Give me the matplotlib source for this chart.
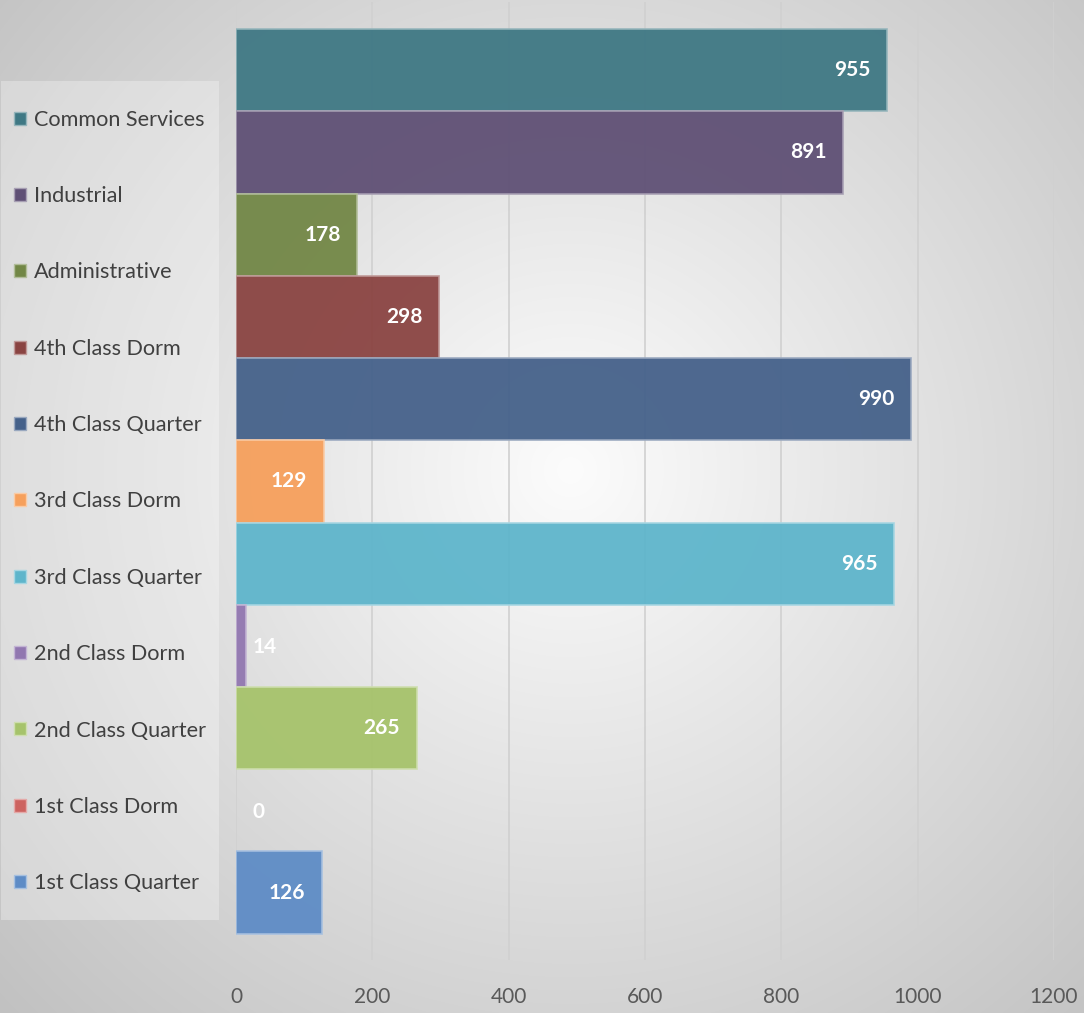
import numpy as np
import matplotlib
matplotlib.use("Agg")
import matplotlib.pyplot as plt
from matplotlib.patches import Rectangle, Patch
from matplotlib.colors import to_rgb

# ---- data (top to bottom as shown) ----
categories = ["Common Services", "Industrial", "Administrative", "4th Class Dorm",
              "4th Class Quarter", "3rd Class Dorm", "3rd Class Quarter", "2nd Class Dorm",
              "2nd Class Quarter", "1st Class Dorm", "1st Class Quarter"]
values = [955, 891, 178, 298, 990, 129, 965, 14, 265, 0, 126]
colors = ["#3F7884", "#5F5075", "#728746", "#8A4442", "#45618A", "#F6A05C",
          "#5EB5CB", "#9177B0", "#A6C36B", "#CD6360", "#5E8CC6"]
xticks = [0, 200, 400, 600, 800, 1000, 1200]

W, H = 1084, 1013
fig = plt.figure(figsize=(W / 100, H / 100), dpi=100)
plt.rcParams['font.family'] = ['Lato', 'DejaVu Sans']

# background radial gradient
bg = fig.add_axes([0, 0, 1, 1], zorder=-10)
yy, xx = np.mgrid[0:H, 0:W]
r = np.hypot(xx - 570, yy - 470)
v = 252 - 60 * (r / 800) ** 1.0
v = np.clip(v, 0, 255) / 255.0
bg.imshow(np.dstack([v, v, v]), aspect='auto', extent=[0, W, H, 0])
bg.set_axis_off()

ax = fig.add_axes([236 / W, 1 - 960 / H, (1054 - 236) / W, (960 - 2) / H])
ax.patch.set_alpha(0)

n = len(categories)
ypos = np.arange(n)[::-1]


def lighten(c, f=0.45):
    r_, g_, b_ = to_rgb(c)
    return (r_ + (1 - r_) * f, g_ + (1 - g_) * f, b_ + (1 - b_) * f)


for y, val, col in zip(ypos, values, colors):
    ax.barh(y, val, height=1.0, color=col, alpha=0.95,
            edgecolor=lighten(col), linewidth=1.2 if val > 0 else 0, zorder=3)
    if val >= 60:
        ax.annotate(str(val), xy=(val, y), xytext=(-12, 0), textcoords='offset points',
                    ha='right', va='center', color='white', fontsize=15,
                    fontweight='bold', zorder=5)
    else:
        ax.annotate(str(val), xy=(0, y), xytext=(12, -1), textcoords='offset points',
                    ha='left', va='center', color='white', fontsize=15,
                    fontweight='bold', zorder=5)

ax.set_xlim(0, 1200)
ax.set_ylim(-0.5 - 0.32, n - 0.5 + 0.33)
ax.set_xticks(xticks)
ax.set_xticklabels([str(t) for t in xticks], fontsize=15, color='#595959')
ax.set_yticks([])
ax.tick_params(axis='x', length=0, pad=19.5)
ax.grid(axis='x', color='#d0d0d0', linewidth=1.2, zorder=0)
for s in ax.spines.values():
    s.set_visible(False)

# legend frame
fig.patches.append(Rectangle((1 / W, 1 - 920 / H), 218 / W, (920 - 81) / H,
                             transform=fig.transFigure, facecolor='white', alpha=0.3,
                             edgecolor='none', zorder=1))
handles = [Patch(facecolor=c, edgecolor=lighten(c), linewidth=1) for c in colors]
leg = fig.legend(handles, categories, loc='center left',
                 bbox_to_anchor=(14 / W, 1 - 501.5 / H), frameon=False,
                 fontsize=15.6, labelcolor='#404040', handlelength=0.55, handleheight=0.55,
                 handletextpad=0.35, labelspacing=2.60, borderpad=0, borderaxespad=0)

fig.savefig("out.png", dpi=100)
